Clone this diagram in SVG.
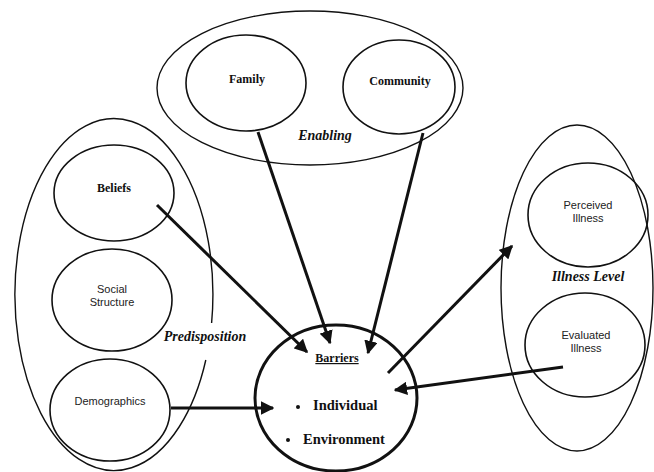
<svg xmlns="http://www.w3.org/2000/svg" width="654" height="472" viewBox="0 0 654 472">
<style>
.grp{fill:none;stroke:#111;stroke-width:1.4}
.node{fill:none;stroke:#111;stroke-width:1.6}
.main{fill:none;stroke:#111;stroke-width:3}
.arr{fill:none;stroke:#111;stroke-width:3;marker-end:url(#ah)}
.bs{font-family:"Liberation Serif","Times New Roman",serif;font-weight:bold;font-size:12px;fill:#111;text-anchor:middle}
.ss{font-family:"Liberation Sans",Arial,sans-serif;font-size:11px;fill:#222;text-anchor:middle}
.gl{font-family:"Liberation Serif","Times New Roman",serif;font-weight:bold;font-style:italic;font-size:14px;fill:#111;text-anchor:middle}
.big{font-family:"Liberation Serif","Times New Roman",serif;font-weight:bold;font-size:14.5px;fill:#111}
</style>
<defs>
<marker id="ah" viewBox="0 0 10 10" refX="9" refY="5" markerWidth="4.5" markerHeight="4.5" orient="auto" markerUnits="strokeWidth">
<path d="M0,0 L10,5 L0,10 z" fill="#111"/>
</marker>
</defs>
<rect width="654" height="472" fill="#fff"/>

<g id="enabling">
<ellipse class="grp" cx="310" cy="88" rx="153" ry="77"/>
<text class="gl" x="325" y="140">Enabling</text>
</g>
<g id="family">
<ellipse class="node" cx="246" cy="83" rx="60" ry="48"/>
<text class="bs" x="247" y="83">Family</text>
</g>
<g id="community">
<ellipse class="node" cx="399" cy="87" rx="56" ry="47"/>
<text class="bs" x="400" y="85">Community</text>
</g>

<g id="predisposition">
<path class="grp" d="M211.6,323 A99,176 0 1 0 205.8,360"/>
<text class="gl" x="205" y="341">Predisposition</text>
</g>
<g id="beliefs">
<ellipse class="node" cx="114" cy="193" rx="60" ry="48"/>
<text class="bs" x="114" y="192">Beliefs</text>
</g>
<g id="social">
<ellipse class="node" cx="112" cy="300" rx="60" ry="51"/>
<text class="ss" x="112" y="293">Social</text>
<text class="ss" x="112" y="306">Structure</text>
</g>
<g id="demographics">
<ellipse class="node" cx="110" cy="410" rx="60" ry="51"/>
<text class="ss" x="110" y="405">Demographics</text>
</g>

<g id="illness">
<ellipse class="grp" cx="577" cy="288" rx="76" ry="163"/>
<text class="gl" x="588" y="281">Illness Level</text>
</g>
<g id="perceived">
<ellipse class="node" cx="588" cy="215" rx="60" ry="52"/>
<text class="ss" x="588" y="209">Perceived</text>
<text class="ss" x="588" y="222">Illness</text>
</g>
<g id="evaluated">
<ellipse class="node" cx="585" cy="345" rx="60" ry="52"/>
<text class="ss" x="586" y="339">Evaluated</text>
<text class="ss" x="586" y="352">Illness</text>
</g>

<g id="barriers">
<ellipse class="main" cx="336" cy="398" rx="81" ry="73"/>
<text class="bs" x="337" y="362" text-decoration="underline">Barriers</text>
<circle cx="298" cy="407" r="2" fill="#111"/>
<text class="big" x="313" y="410">Individual</text>
<circle cx="288" cy="440" r="2" fill="#111"/>
<text class="big" x="303" y="444">Environment</text>
</g>

<g id="connectors">
<line class="arr" x1="258" y1="132" x2="330" y2="343"/>
<line class="arr" x1="423" y1="133" x2="368" y2="353"/>
<line class="arr" x1="157" y1="205" x2="307" y2="352"/>
<line class="arr" x1="171" y1="408" x2="273" y2="408"/>
<line class="arr" x1="388" y1="373" x2="512" y2="246"/>
<line class="arr" x1="563" y1="367" x2="395" y2="390"/>
</g>
</svg>
